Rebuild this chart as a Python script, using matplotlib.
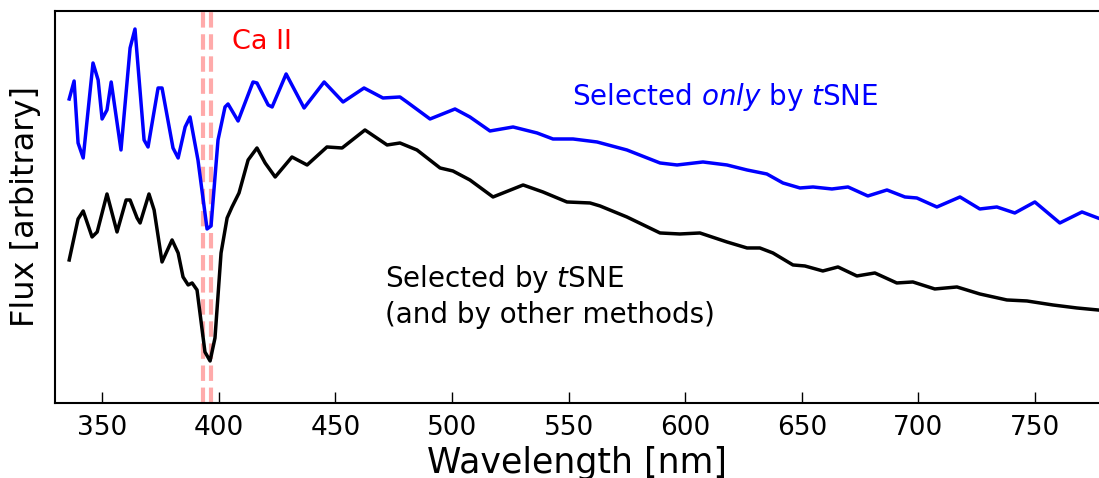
import matplotlib
matplotlib.use("Agg")
import matplotlib.pyplot as plt

# blue spectrum: selected only by tSNE
wl_blue = [335.9, 338.0, 339.7, 341.9, 346.1, 348.3, 350.0, 352.1, 353.9, 358.1,
           362.0, 364.1, 368.0, 369.7, 374.0, 375.7, 380.4, 382.6, 385.6, 387.7,
           391.1, 395.0, 396.7, 399.7, 402.7, 404.0, 408.3, 414.7, 416.4, 421.2,
           422.9, 428.9, 436.6, 445.2, 453.3, 462.3, 470.4, 477.7, 480.7, 490.6,
           501.3, 507.7, 516.3, 526.2, 536.5, 543.3, 551.9, 562.2, 575.0, 589.2,
           596.5, 607.6, 617.9, 626.5, 635.0, 641.9, 649.2, 654.8, 662.9, 669.8,
           678.3, 686.5, 694.2, 699.3, 707.9, 717.8, 726.3, 733.6, 741.3, 749.9,
           760.6, 770.1, 776.9]
flux_blue = [304, 322, 260, 245, 340, 323, 284, 293, 321, 253,
             355, 374, 263, 256, 315, 315, 255, 245, 276, 286,
             243, 174, 177, 263, 296, 299, 282, 321, 320, 298,
             296, 329, 295, 321, 301, 315, 305, 306, 301, 284,
             294, 286, 272, 276, 270, 264, 264, 261, 253, 240,
             238, 241, 238, 233, 229, 220, 215, 216, 214, 216,
             207, 213, 206, 205, 196, 206, 194, 196, 190, 201,
             180, 191, 185]

# black spectrum: selected by tSNE and other methods
wl_black = [335.9, 339.7, 341.9, 345.7, 347.9, 352.1, 356.4, 360.3, 362.0, 365.0,
            366.3, 370.1, 372.3, 375.7, 380.0, 382.6, 384.7, 386.9, 388.6, 390.7,
            394.1, 396.3, 398.4, 401.0, 403.6, 405.7, 408.7, 412.6, 416.4, 419.9,
            424.2, 431.4, 437.9, 446.4, 452.9, 462.7, 472.2, 477.7, 485.0, 494.9,
            500.4, 507.7, 517.6, 530.5, 539.0, 549.3, 559.2, 563.5, 575.0, 589.2,
            597.7, 606.3, 617.9, 626.5, 632.0, 637.6, 646.2, 651.3, 659.0, 665.5,
            673.6, 681.3, 690.7, 697.6, 707.0, 716.5, 726.3, 737.9, 746.5, 757.6,
            767.9, 776.9]
flux_black = [143, 184, 192, 166, 171, 209, 171, 203, 203, 185,
              180, 209, 193, 141, 163, 150, 126, 118, 120, 113,
              51, 42, 65, 150, 185, 196, 210, 243, 255, 240,
              226, 246, 238, 256, 255, 273, 258, 260, 253, 235,
              232, 223, 206, 218, 211, 201, 200, 197, 186, 170,
              169, 170, 161, 155, 155, 150, 138, 137, 132, 136,
              127, 130, 120, 121, 114, 116, 109, 103, 102, 98,
              95, 93]

ca_lines = [393.37, 396.85]

fig = plt.figure(figsize=(10.99, 4.78), dpi=100)
ax = fig.add_axes([0.0496, 0.157, 0.9504, 0.82])

for w in ca_lines:
    ax.axvline(w, color='#ffaaaa', lw=3, ls='--', zorder=1)

ax.plot(wl_blue, flux_blue, color='blue', lw=2.5, zorder=2)
ax.plot(wl_black, flux_black, color='black', lw=2.5, zorder=2)

ax.text(405.7, 361, 'Ca II', color='red', fontsize=19.5, va='center')
ax.text(551.5, 306, r'Selected $only$ by $t$SNE', color='blue', fontsize=20, va='center')
ax.text(471.3, 107, 'Selected by $t$SNE\n(and by other methods)', color='black',
        fontsize=20, va='center', linespacing=1.25)

ax.set_xlim(329.6, 777.4)
ax.set_ylim(0, 392)
ax.set_xticks([350, 400, 450, 500, 550, 600, 650, 700, 750])
ax.set_yticks([])
ax.tick_params(axis='x', direction='in', length=8, width=1, labelsize=19, pad=9)
for s in ax.spines.values():
    s.set_linewidth(1.5)
ax.spines['right'].set_visible(False)

ax.set_xlabel('Wavelength [nm]', fontsize=25, labelpad=3)
ax.set_ylabel('Flux [arbitrary]', fontsize=23, labelpad=10)

fig.savefig('out.png', dpi=100)
